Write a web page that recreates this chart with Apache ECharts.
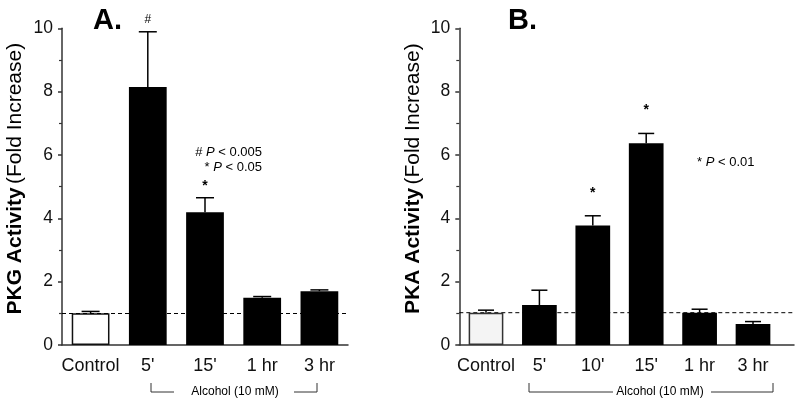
<!DOCTYPE html>
<html>
<head>
<meta charset="utf-8">
<script src="https://cdn.jsdelivr.net/npm/echarts@6/dist/echarts.min.js"></script>
<style>
html,body{margin:0;padding:0;background:#fff;}
#chart{width:800px;height:403px;}
</style>
</head>
<body>
<div id="chart"></div>
<script>
// ---- data ----
const pkgCategories = ['Control', "5'", "15'", '1 hr', '3 hr'];
const pkgMean = [1.00, 8.15, 4.19, 1.49, 1.70];
const pkgSem = [0.06, 1.74, 0.46, 0.04, 0.04];
const pkgMarks = ['', '#', '*', '', ''];
const pkgBaseline = 1.0;

const pkaCategories = ['Control', "5'", "10'", "15'", '1 hr', '3 hr'];
const pkaMean = [1.02, 1.26, 3.77, 6.37, 1.02, 0.66];
const pkaSem = [0.08, 0.47, 0.31, 0.31, 0.11, 0.08];
const pkaMarks = ['', '', '*', '*', '', ''];
const pkaBaseline = 1.02;

const yMin = 0, yMax = 10, yInterval = 2;

// ---- styling ----
const FONT = 'Liberation Sans, Arial, Helvetica, sans-serif';
const AX = '#333';

const chart = echarts.init(document.getElementById('chart'), null, {renderer: 'canvas'});

function valueAxis(gridIndex, name, show) {
  return {
    type: 'value', gridIndex: gridIndex, min: yMin, max: yMax, interval: yInterval,
    show: show,
    axisLine: {show: true, lineStyle: {color: AX, width: 1.5}},
    axisTick: {show: true, length: 4, lineStyle: {color: AX, width: 1.5}},
    minorTick: {show: true, splitNumber: 2, length: 3, lineStyle: {color: AX, width: 1.2}},
    splitLine: {show: false},
    axisLabel: {fontFamily: FONT, fontSize: 17.5, color: '#111', margin: 9},
    name: name,
    nameLocation: 'middle', nameRotate: 90, nameGap: 36,
    nameTextStyle: {
      color: '#000',
      padding: [0, 0, 0, 16],
      rich: {
        b: {fontFamily: FONT, fontSize: 21, fontWeight: 'bold', color: '#000'},
        n: {fontFamily: FONT, fontSize: 21, color: '#000'}
      }
    }
  };
}

function catAxis(gridIndex, data, showLine) {
  return {
    type: 'category', gridIndex: gridIndex, data: data,
    axisLine: {show: showLine, lineStyle: {color: AX, width: 1.5}},
    axisTick: {show: false},
    axisLabel: {fontFamily: FONT, fontSize: 18, color: '#111', margin: 12, interval: 0}
  };
}

function errorSeries(xi, yi, means, sems, marks, capHalf, markOffset) {
  return {
    type: 'custom', xAxisIndex: xi, yAxisIndex: yi, z: 3,
    data: means.map((m, i) => [i, m, sems[i]]),
    encode: {x: 0, y: 1},
    renderItem: function (params, api) {
      const i = api.value(0), m = api.value(1), s = api.value(2);
      const base = api.coord([i, m]);
      const top = api.coord([i, m + s]);
      const children = [
        {type: 'line', shape: {x1: base[0], y1: base[1], x2: top[0], y2: top[1]},
         style: {stroke: '#000', lineWidth: 1.5}},
        {type: 'line', shape: {x1: top[0] - capHalf, y1: top[1], x2: top[0] + capHalf, y2: top[1]},
         style: {stroke: '#000', lineWidth: 1.5}}
      ];
      const mk = marks[params.dataIndex];
      if (mk) {
        children.push({type: 'text', x: top[0], y: top[1] - markOffset,
          style: {text: mk, fontFamily: FONT, fontSize: mk === '*' ? 14 : 12, fontWeight: mk === '*' ? 'bold' : 'normal', fill: '#000',
                  align: 'center', verticalAlign: 'middle'}});
      }
      return {type: 'group', children: children};
    }
  };
}

function barData(means, controlStyle) {
  return means.map((v, i) => i === 0 ? {value: v, itemStyle: controlStyle} : v);
}

const option = {
  animation: false,
  backgroundColor: '#fff',
  grid: [
    {left: 62, top: 28.3, width: 286, height: 316.7},
    {left: 459.3, top: 28.3, width: 334.7, height: 316.7},
    {left: 459.3, top: 28.3, width: 320.4, height: 316.7}
  ],
  xAxis: [
    catAxis(0, pkgCategories, true),
    {type: 'value', gridIndex: 1, min: 0, max: 1, axisLine: {show: true, lineStyle: {color: AX, width: 1.5}},
     axisTick: {show: false}, axisLabel: {show: false}, splitLine: {show: false}},
    catAxis(2, pkaCategories, false)
  ],
  yAxis: [
    valueAxis(0, '{b|PKG Activity} {n|(Fold Increase)}', true),
    valueAxis(1, '{b|PKA Activity} {n|(Fold Increase)}', true),
    Object.assign(valueAxis(2, '', false), {show: false})
  ],
  series: [
    {
      type: 'bar', xAxisIndex: 0, yAxisIndex: 0, barWidth: '66%',
      itemStyle: {color: '#000'},
      data: barData(pkgMean, {color: '#fff', borderColor: '#111', borderWidth: 1.5}),
      markLine: {
        silent: true, symbol: ['none', 'none'], label: {show: false},
        lineStyle: {type: [4, 3], color: '#000', width: 1},
        data: [{yAxis: pkgBaseline}]
      }
    },
    errorSeries(0, 0, pkgMean, pkgSem, pkgMarks, 9, 12),
    {
      type: 'line', xAxisIndex: 1, yAxisIndex: 1, symbol: 'none', silent: true, z: 1,
      lineStyle: {type: [4, 3], color: '#000', width: 1},
      data: [[0, pkaBaseline], [1, pkaBaseline]]
    },
    {
      type: 'bar', xAxisIndex: 2, yAxisIndex: 2, barWidth: '65%', z: 2,
      itemStyle: {color: '#000'},
      data: barData(pkaMean, {color: '#f4f4f4', borderColor: '#333', borderWidth: 1.5})
    },
    errorSeries(2, 2, pkaMean, pkaSem, pkaMarks, 8, 23)
  ],
  graphic: [
    {type: 'text', x: 93, y: 20.5, style: {text: 'A.', fontFamily: FONT, fontSize: 29, fontWeight: 'bold', fill: '#000', verticalAlign: 'middle'}},
    {type: 'text', x: 508, y: 20.5, style: {text: 'B.', fontFamily: FONT, fontSize: 29, fontWeight: 'bold', fill: '#000', verticalAlign: 'middle'}},
    {type: 'text', x: 262, y: 152, style: {text: '# {i|P} < 0.005', fontFamily: FONT, fontSize: 13, fill: '#000', align: 'right', verticalAlign: 'middle',
      rich: {i: {fontStyle: 'italic', fontFamily: FONT, fontSize: 13, fill: '#000'}}}},
    {type: 'text', x: 262, y: 167, style: {text: '* {i|P} < 0.05', fontFamily: FONT, fontSize: 13, fill: '#000', align: 'right', verticalAlign: 'middle',
      rich: {i: {fontStyle: 'italic', fontFamily: FONT, fontSize: 13, fill: '#000'}}}},
    {type: 'text', x: 697, y: 162, style: {text: '* {i|P} < 0.01', fontFamily: FONT, fontSize: 13, fill: '#000', align: 'left', verticalAlign: 'middle',
      rich: {i: {fontStyle: 'italic', fontFamily: FONT, fontSize: 13, fill: '#000'}}}},
    // Alcohol brackets
    {type: 'polyline', shape: {points: [[151, 383], [151, 392], [174, 392]]}, style: {stroke: '#333', lineWidth: 1, fill: null}},
    {type: 'polyline', shape: {points: [[294, 392], [317, 392], [317, 383]]}, style: {stroke: '#333', lineWidth: 1, fill: null}},
    {type: 'text', x: 235, y: 392, style: {text: 'Alcohol (10 mM)', fontFamily: FONT, fontSize: 12, fill: '#000', align: 'center', verticalAlign: 'middle'}},
    {type: 'polyline', shape: {points: [[529, 383], [529, 392], [613, 392]]}, style: {stroke: '#333', lineWidth: 1, fill: null}},
    {type: 'polyline', shape: {points: [[711, 392], [773, 392], [773, 383]]}, style: {stroke: '#333', lineWidth: 1, fill: null}},
    {type: 'text', x: 660, y: 392, style: {text: 'Alcohol (10 mM)', fontFamily: FONT, fontSize: 12, fill: '#000', align: 'center', verticalAlign: 'middle'}}
  ]
};
chart.setOption(option);
</script>
</body>
</html>
